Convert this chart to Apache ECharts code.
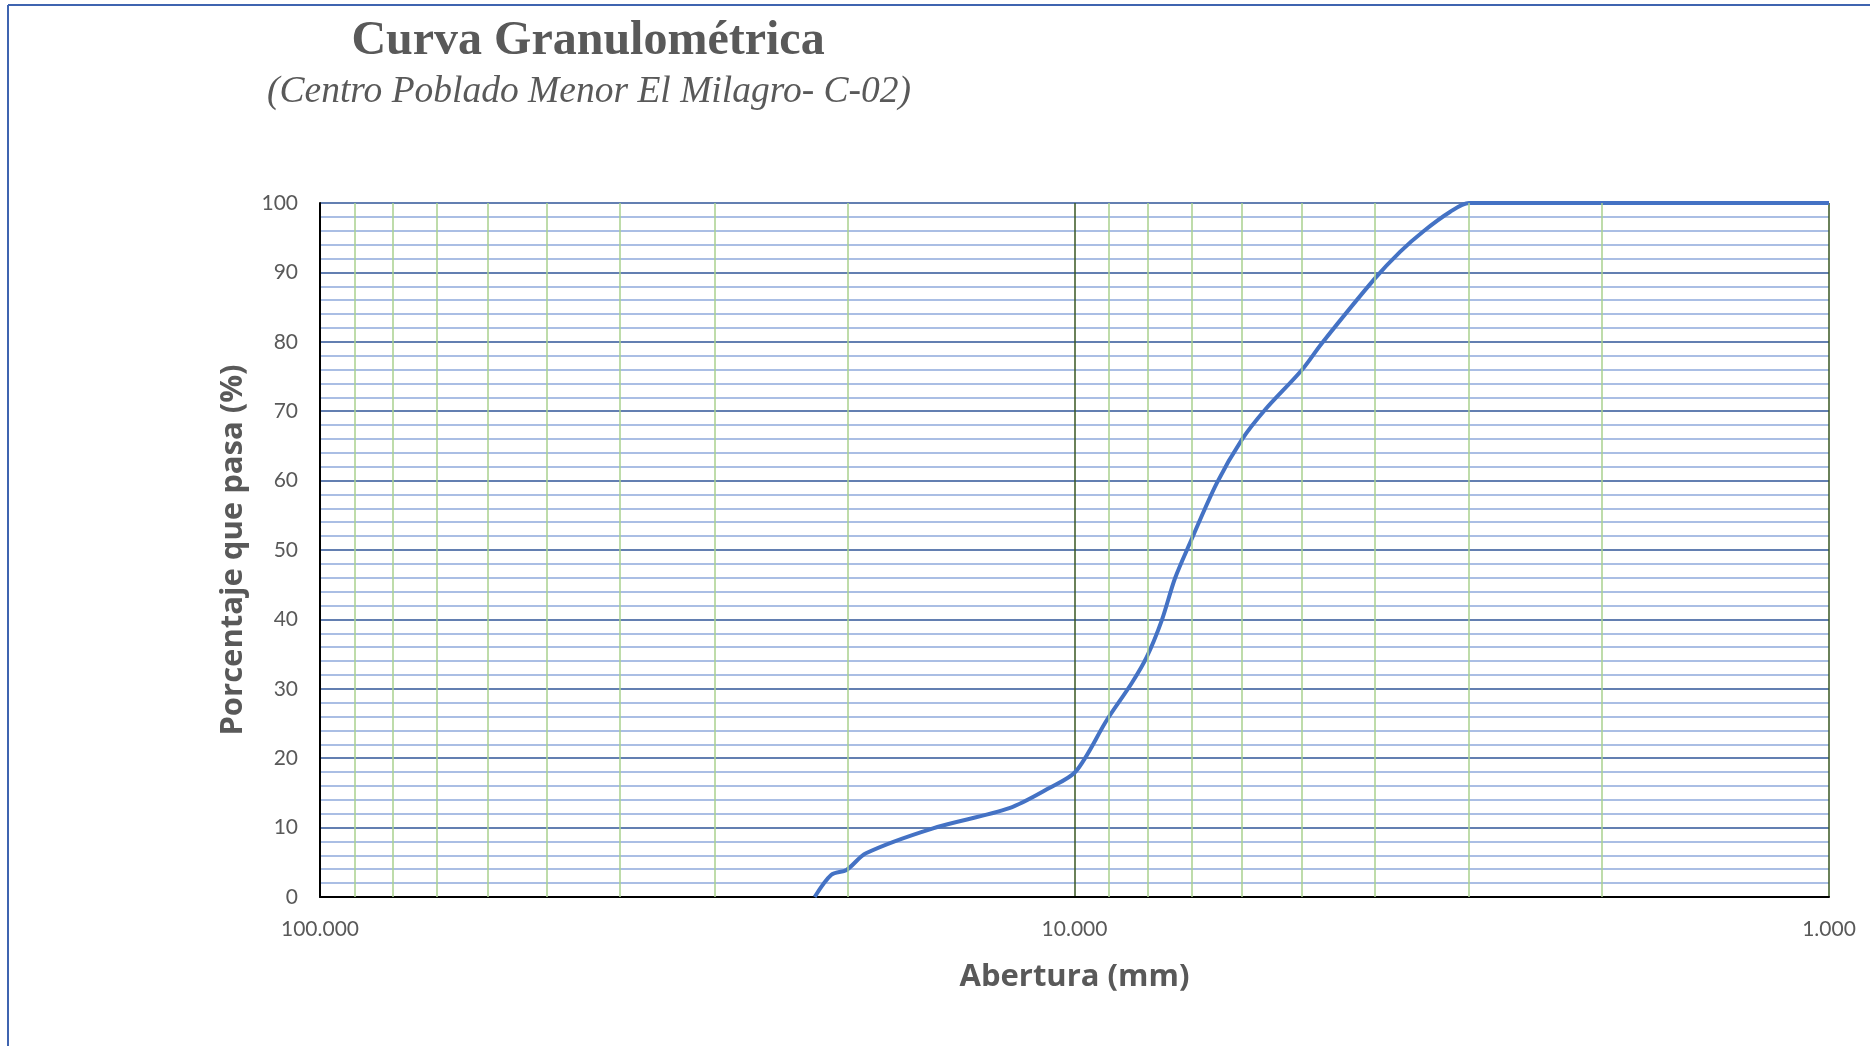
<!DOCTYPE html>
<html>
<head>
<meta charset="utf-8">
<script src="https://cdn.jsdelivr.net/npm/echarts@6/dist/echarts.min.js"></script>
<style>
html,body{margin:0;padding:0;background:#fff;}
#chart{width:1870px;height:1046px;}
</style>
</head>
<body>
<div id="chart"></div>
<script>
// Traced points of the grading curve: opening (mm) and % passing
const aperture = [22.1, 21.0, 20.05, 18.9, 15.4, 12.2, 10.8, 9.96, 9.06, 8.40, 8.02, 7.66, 7.36, 7.03, 6.48, 6.00, 5.59, 5.00, 4.70, 4.00, 3.70, 3.45, 3.18, 3.00, 1.00];
const passing  = [0,    3.2,  3.9,   6.3,  9.9,  12.8, 15.7, 18.1, 25.5, 30.8, 34.6, 39.9, 45.9, 51.0, 59.6, 65.9, 70.2, 75.9, 79.8, 89.1, 93.0, 95.9, 98.7, 100,  100];
// Minor vertical grid values on the log axis
const minorX = [90, 80, 70, 60, 50, 40, 30, 20, 9, 8, 7, 6, 5, 4, 3, 2];
const titleText = 'Curva Granulométrica';
const subtitleText = '(Centro Poblado Menor El Milagro- C-02)';
const xName = 'Abertura (mm)';
const yName = 'Porcentaje que pasa (%)';

const chart = echarts.init(document.getElementById('chart'));
const font = 'Lato, "Open Sans", sans-serif';
const nameFont = '"Open Sans", Lato, sans-serif';
chart.setOption({
  animation: false,
  backgroundColor: '#ffffff',
  grid: {left: 320, top: 203, width: 1509, height: 694, containLabel: false},
  graphic: [
    {type: 'line', shape: {x1: 8, y1: 5, x2: 1870, y2: 5}, style: {stroke: '#3F64B0', lineWidth: 2}, silent: true},
    {type: 'line', shape: {x1: 8, y1: 5, x2: 8, y2: 1046}, style: {stroke: '#3F64B0', lineWidth: 2}, silent: true},
    {type: 'text', x: 588, y: 42, style: {text: titleText, font: 'bold 48px "Liberation Serif", "Times New Roman", serif', fill: '#595959', textAlign: 'center', textVerticalAlign: 'middle'}},
    {type: 'text', x: 589, y: 92, style: {text: subtitleText, font: 'italic 37.5px "Liberation Serif", "Times New Roman", serif', fill: '#595959', textAlign: 'center', textVerticalAlign: 'middle'}}
  ],
  xAxis: {
    type: 'log', logBase: 10, min: 1, max: 100, inverse: true,
    name: xName, nameLocation: 'middle', nameGap: 65,
    nameTextStyle: {fontFamily: nameFont, fontWeight: 'bold', fontSize: 31, color: '#595959'},
    axisLine: {onZero: false, lineStyle: {color: '#000', width: 2}},
    axisTick: {show: false},
    axisLabel: {formatter: v => Number(v).toFixed(3), fontFamily: font, fontSize: 21, color: '#595959', margin: 22},
    splitLine: {show: true, lineStyle: {color: '#385723', width: 1.5}}
  },
  yAxis: {
    type: 'value', min: 0, max: 100, interval: 10,
    name: yName, nameLocation: 'middle', nameGap: 71,
    nameTextStyle: {fontFamily: nameFont, fontWeight: 'bold', fontSize: 31, color: '#595959'},
    axisLine: {show: true, onZero: false, lineStyle: {color: '#000', width: 2}},
    axisTick: {show: false},
    axisLabel: {fontFamily: font, fontSize: 21, color: '#595959', margin: 22},
    splitLine: {show: true, lineStyle: {color: '#2F5597', width: 1.5}},
    minorTick: {show: false, splitNumber: 5},
    minorSplitLine: {show: true, lineStyle: {color: '#8EA9DB', width: 1.5}}
  },
  series: [
    {
      type: 'line', data: [], z: 1, silent: true,
      markLine: {
        silent: true, symbol: ['none', 'none'], label: {show: false}, animation: false,
        lineStyle: {color: '#A9D18E', width: 1.5, type: 'solid'},
        data: minorX.map(v => ({xAxis: v}))
      }
    },
    {
      type: 'line', z: 3,
      data: aperture.map((a, i) => [a, passing[i]]),
      smooth: 0.3, showSymbol: false,
      lineStyle: {color: '#4472C4', width: 4},
      itemStyle: {color: '#4472C4'}
    }
  ]
});
</script>
</body>
</html>
